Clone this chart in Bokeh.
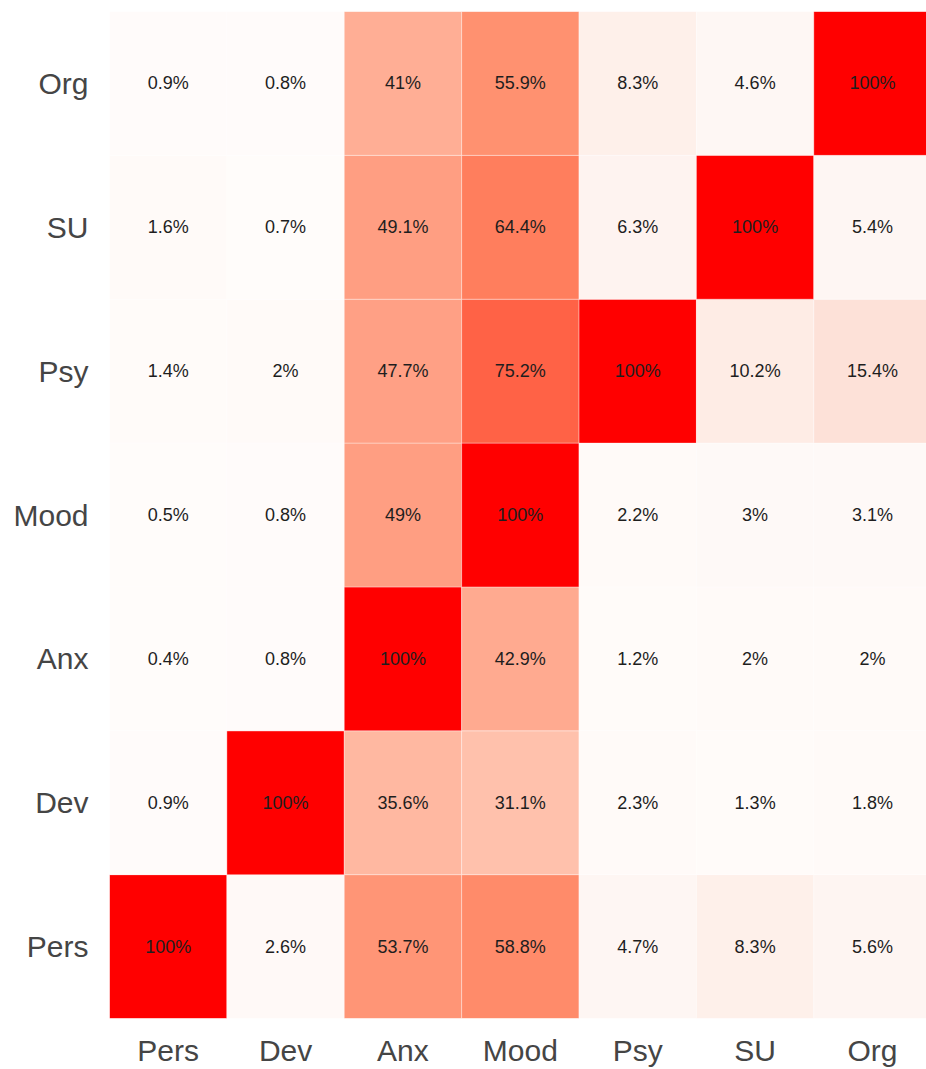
import numpy as np
from bokeh.plotting import figure
from bokeh.models import ColumnDataSource, Range1d, FixedTicker, LinearColorMapper
from bokeh.transform import transform
from bokeh.core.properties import value
from bokeh.embed import file_html
from bokeh.resources import INLINE

# ---- data ----
categories = ["Pers", "Dev", "Anx", "Mood", "Psy", "SU", "Org"]
# rows listed from bottom (Pers) to top (Org); columns Pers..Org
row_pers = [100, 2.6, 53.7, 58.8, 4.7, 8.3, 5.6]
row_dev = [0.9, 100, 35.6, 31.1, 2.3, 1.3, 1.8]
row_anx = [0.4, 0.8, 100, 42.9, 1.2, 2, 2]
row_mood = [0.5, 0.8, 49, 100, 2.2, 3, 3.1]
row_psy = [1.4, 2, 47.7, 75.2, 100, 10.2, 15.4]
row_su = [1.6, 0.7, 49.1, 64.4, 6.3, 100, 5.4]
row_org = [0.9, 0.8, 41, 55.9, 8.3, 4.6, 100]
rows = [row_pers, row_dev, row_anx, row_mood, row_psy, row_su, row_org]

xs, ys, vals, labels = [], [], [], []
for yi, row in enumerate(rows):
    for xi, v in enumerate(row):
        xs.append(xi)
        ys.append(yi)
        vals.append(v)
        labels.append(f"{v:g}%")
src = ColumnDataSource(dict(x=xs, y=ys, v=vals, label=labels))

# ---- colour scale (white -> salmon -> tomato -> red) ----
stops = [0, 5, 8, 15, 31, 36, 49, 56, 64, 75, 100]
stop_cols = ["#FFFCFB", "#FEF6F3", "#FEF0EB", "#FDE2D9", "#FFC1AC", "#FFB7A0",
             "#FF9E82", "#FF9170", "#FF7F5E", "#FF6347", "#FF0000"]
rgb = np.array([[int(c[i:i + 2], 16) for i in (1, 3, 5)] for c in stop_cols], float)
grid = np.linspace(0, 100, 256)
pal = []
for g in grid:
    r = np.interp(g, stops, rgb[:, 0]); gg = np.interp(g, stops, rgb[:, 1]); b = np.interp(g, stops, rgb[:, 2])
    pal.append("#%02x%02x%02x" % (int(round(r)), int(round(gg)), int(round(b))))
mapper = LinearColorMapper(palette=pal, low=0, high=100)

p = figure(width=926, height=1069, output_backend="svg", toolbar_location=None,
           x_range=Range1d(-0.5, 6.46), y_range=Range1d(-0.5, 6.5),
           min_border_left=109, min_border_right=0, min_border_top=11, min_border_bottom=51)
p.outline_line_color = None
p.grid.grid_line_color = None
p.background_fill_color = "white"

p.rect(x="x", y="y", width=1, height=1, source=src,
       fill_color=transform("v", mapper), line_color="white", line_alpha=0.35, line_width=1)
p.text(x="x", y="y", text="label", source=src, text_align="center", text_baseline="middle",
       text_font=value("Liberation Sans"), text_font_size="18px", text_color="#1e1e1e")

ticks = list(range(len(categories)))
overrides = {i: c for i, c in enumerate(categories)}
for ax in (p.xaxis, p.yaxis):
    ax.ticker = FixedTicker(ticks=ticks)
    ax.major_label_overrides = overrides
    ax.axis_line_color = None
    ax.major_tick_line_color = None
    ax.minor_tick_line_color = None
    ax.major_label_text_font = "Liberation Sans"
    ax.major_label_text_font_size = "30px"
    ax.major_label_text_color = "#454545"
p.xaxis.major_label_standoff = 9
p.yaxis.major_label_standoff = 15

open("out.html", "w").write(file_html(p, INLINE))
